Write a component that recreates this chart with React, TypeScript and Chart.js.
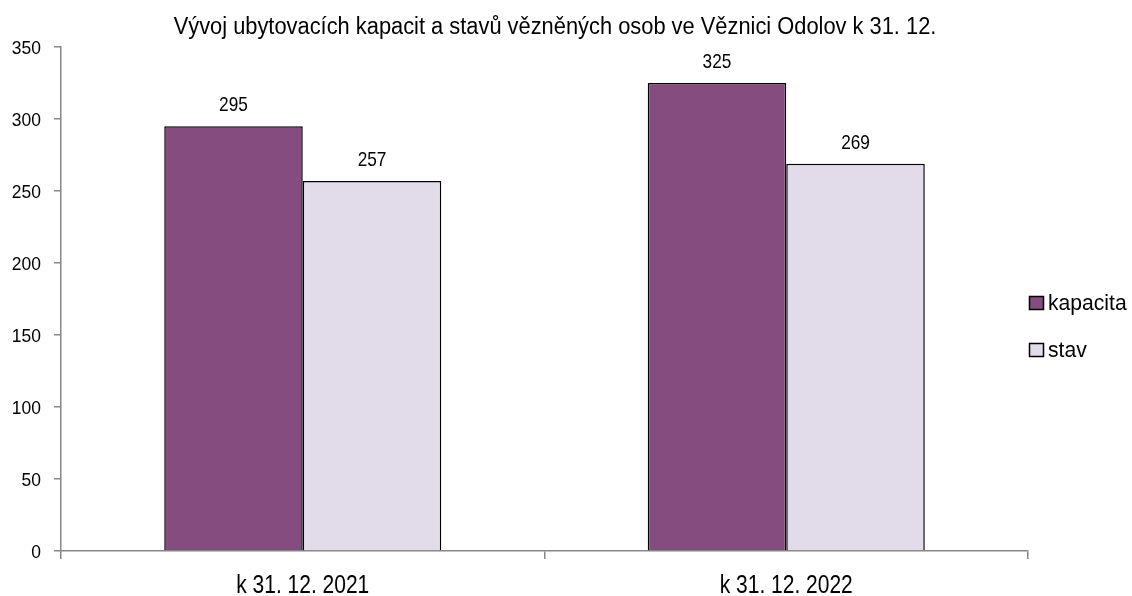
import React, { useEffect, useRef } from "react";
import { Chart, registerables } from "chart.js";

Chart.register(...registerables);

const categories = ["k 31. 12. 2021", "k 31. 12. 2022"];
const kapacita = [295, 325];
const stav = [257, 269];
const seriesNames = ["kapacita", "stav"];
const yTicks = [0, 50, 100, 150, 200, 250, 300, 350];
const titleText = "Vývoj ubytovacích kapacit a stavů vězněných osob ve Věznici Odolov k 31. 12.";

const FONT = "'Liberation Sans', Arial, sans-serif";
const PURPLE = "#854C80";
const LIGHT = "#E2DCEA";
const AXIS = "#868686";

function drawText(ctx: any, text: string, x: number, y: number, size: number, sx: number, align: string) {
  ctx.save();
  ctx.font = `${size}px ${FONT}`;
  ctx.textBaseline = "alphabetic";
  ctx.textAlign = align;
  ctx.translate(x, y);
  ctx.scale(sx, 1);
  ctx.fillStyle = "#000";
  ctx.fillText(text, 0, 0);
  ctx.restore();
}

const extrasPlugin = {
  id: "extras",
  afterDraw(chart: any) {
    const ctx = chart.ctx;
    const area = chart.chartArea;
    // title
    drawText(ctx, titleText, 555, 34, 23, 0.95, "center");
    // y tick labels
    const ys = chart.scales.y;
    ys.ticks.forEach((t: any) => {
      drawText(ctx, String(t.value), 41, ys.getPixelForValue(t.value) + 7, 18, 0.97, "right");
    });
    // x tick labels
    const xs = chart.scales.x;
    categories.forEach((c, i) => {
      drawText(ctx, c, xs.getPixelForValue(i), 593, 25, 0.84, "center");
    });
    // data labels
    chart.data.datasets.forEach((ds: any, di: number) => {
      const meta = chart.getDatasetMeta(di);
      meta.data.forEach((bar: any, i: number) => {
        drawText(ctx, String(ds.data[i]), bar.x, bar.y - 15, 21, 0.82, "center");
      });
    });
    // legend
    const items = [
      { label: seriesNames[0], color: PURPLE, y: 303 },
      { label: seriesNames[1], color: LIGHT, y: 350 },
    ];
    ctx.save();
    items.forEach((it) => {
      ctx.fillStyle = it.color;
      ctx.fillRect(area.right + 1.5, it.y - 6.5, 14, 13);
      ctx.strokeStyle = "#000";
      ctx.lineWidth = 1.5;
      ctx.strokeRect(area.right + 1.5, it.y - 6.5, 14, 13);
      drawText(ctx, it.label, area.right + 20, it.y + 7, 22, 0.96, "left");
    });
    ctx.restore();
  },
};

export default function App() {
  const ref = useRef<HTMLCanvasElement>(null);
  useEffect(() => {
    if (!ref.current) return;
    const chart = new Chart(ref.current, {
      type: "bar",
      data: {
        labels: categories,
        datasets: [
          {
            label: seriesNames[0],
            data: kapacita,
            backgroundColor: PURPLE,
            borderColor: "#000",
            borderWidth: 1.5,
          },
          {
            label: seriesNames[1],
            data: stav,
            backgroundColor: LIGHT,
            borderColor: "#000",
            borderWidth: 1.5,
          },
        ],
      },
      options: {
        responsive: false,
        animation: false,
        devicePixelRatio: 1,
        layout: { padding: { top: 47, right: 104, left: 0, bottom: 0 } },
        datasets: { bar: { barPercentage: 1, categoryPercentage: 0.573 } },
        plugins: {
          legend: { display: false },
          title: { display: false },
          tooltip: { enabled: false },
        },
        scales: {
          x: {
            grid: {
              display: true,
              drawOnChartArea: false,
              drawTicks: true,
              tickLength: 8,
              color: AXIS,
              lineWidth: 1.5,
              offset: true,
            },
            border: { display: true, color: AXIS, width: 1.5 },
            ticks: { display: false },
            afterFit(scale: any) {
              scale.height = 45;
            },
          },
          y: {
            min: 0,
            max: 350,
            afterBuildTicks(scale: any) {
              scale.ticks = yTicks.map((v) => ({ value: v }));
            },
            grid: {
              display: true,
              drawOnChartArea: false,
              drawTicks: true,
              tickLength: 7,
              color: AXIS,
              lineWidth: 1.5,
            },
            border: { display: true, color: AXIS, width: 1.5 },
            ticks: { display: false },
            afterFit(scale: any) {
              scale.width = 61;
            },
          },
        },
      },
      plugins: [extrasPlugin],
    });
    return () => chart.destroy();
  }, []);
  return (
    <div style={{ position: "absolute", left: 0, top: 0, width: 1132, height: 596, background: "#fff" }}>
      <canvas ref={ref} width={1132} height={596} />
    </div>
  );
}
